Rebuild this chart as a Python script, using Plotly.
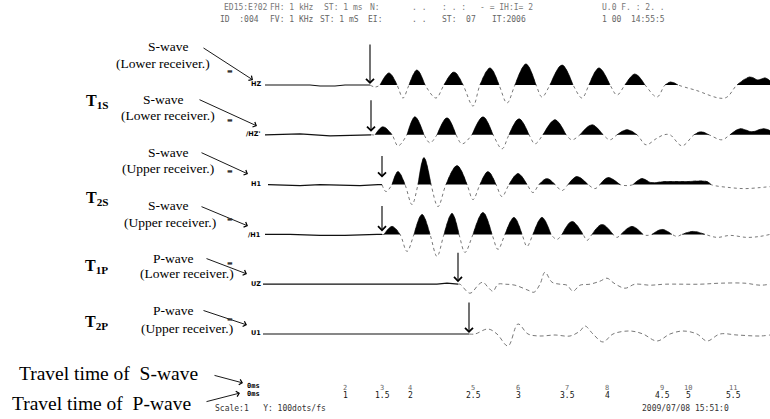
import plotly.graph_objects as go

# ---------------- data (time in samples after trigger, amplitude in counts) ----------------
HZ = [(10,0),(55,0),(65,-1),(80,-1),(90,0),(115,0),(120,-2),(125,0),(134,12),(142,0),(148,-13),(154,0),
      (162,15),(170,0),(181,-13),(189,0),(199,13),(208,0),(218,-21),(225,0),(235,17),(244,0),(252,-18),
      (260,0),(271,21),(281,0),(287,-12),(295,0),(307,20),(318,0),(327,-13),(334,0),(344,17),(355,0),
      (362,-10),(370,0),(380,11),(390,0),(402,-12),(410,0),(416,3),(423,0),(440,-5),(470,-13),(482,0),
      (495,8),(503,5),(510,7),(515,4)]
HZP = [(10,0),(45,1),(75,-1),(117,0),(120,0),(128,8),(137,0),(143,-11),(152,0),(160,18),(169,0),(175,-8),
       (182,0),(192,17),(201,0),(207,-9),(217,0),(228,18),(238,0),(247,-14),(254,0),(264,16),(274,0),
       (280,-9),(288,0),(300,15),(311,0),(317,-5),(325,0),(337,10),(348,0),(355,-5),(362,0),(372,5),
       (382,0),(391,-10),(401,-4),(409,0),(415,0),(427,-11),(439,0),(446,3),(454,0),(467,-5),(475,0),
       (485,6),(497,3),(508,6),(515,4)]
H1 = [(13,0),(45,-1),(65,0),(105,-1),(123,0),(131,-7),(137,0),(143,13),(150,0),(157,-20),(163,0),(169,27),
      (176,0),(183,-22),(191,0),(202,19),(212,0),(218,-15),(225,0),(233,13),(241,0),(247,-12),(254,0),
      (263,11),(272,0),(278,-8),(284,0),(292,6),(300,0),(307,-6),(313,0),(322,8),(333,0),(340,-4),
      (345,0),(353,7),(365,0),(372,-1),(378,0),(387,6),(396,2),(410,3),(430,3),(452,3),(456,0),
      (475,-3),(490,-4),(505,-3),(515,-2)]
ZH1 = [(10,0),(35,0),(65,-1),(90,-1),(122,0),(129,0),(137,8),(145,0),(152,-17),(159,0),(167,20),(175,0),
       (182,-22),(189,0),(197,21),(204,0),(210,-18),(218,0),(228,22),(237,0),(243,-15),(250,0),(259,17),
       (267,0),(272,-12),(278,0),(287,17),(296,0),(302,-5),(307,0),(317,13),(328,0),(332,-6),(337,0),
       (347,10),(358,0),(362,-3),(366,0),(377,8),(388,0),(392,-1),(397,0),(407,5),(417,0),(422,-2),
       (427,0),(438,3),(450,0),(462,-3),(475,-1),(492,-3),(505,-2),(515,0)]
UZ = [(8,0),(182,0),(192,1),(200,0),(205,0),(215,-9),(224,0),(228,2),(233,-3),(238,-7),(243,0),(250,0),
      (260,-1),(273,-6),(279,-8),(285,0),(290,12),(297,2),(305,0),(312,-1),(318,-7),(325,-1),(335,0),
      (345,3),(352,6),(359,1),(370,-4),(380,0),(395,-1),(410,0),(445,0),(465,1),(490,1),(505,-1),(515,0)]
U1 = [(8,0),(214,0),(220,0),(233,5),(242,0),(253,-12),(263,10),(273,0),(285,-2),(300,-1),(315,-2),
      (325,3),(330,8),(338,0),(348,-8),(358,0),(375,3),(388,0),(402,-7),(415,0),(428,3),(442,0),
      (452,-7),(465,0),(482,-1),(505,-2),(515,-1)]

CHANNELS = ["HZ", "/HZ'", "H1", "/H1", "UZ", "U1"]
WAVES = [HZ, HZP, H1, ZH1, UZ, U1]
WAVE_TYPE = ["S", "S", "S", "S", "P", "P"]
ARRIVAL = [115, 116, 127, 127, 203, 214]

TICK_POS = [90, 127, 155, 218, 263, 312, 352, 407, 433, 478]
TICK_S = ["2", "3", "4", "5", "6", "7", "8", "9", "10", "11"]
TICK_P = ["1", "1.5", "2", "2.5", "3", "3.5", "4", "4.5", "5", "5.5"]

# ---------------- layout constants ----------------
W, H = 770, 419
GAP = 49.8          # vertical spacing between traces (counts)
SERIF = "Liberation Serif"
MONO = "DejaVu Sans Mono"


def P(px, py):
    return px / W, 1 - py / H


fig = go.Figure()

for k, (wave, wtype, arr) in enumerate(zip(WAVES, WAVE_TYPE, ARRIVAL)):
    off = -k * GAP
    t = [p[0] for p in wave]
    a = [p[1] for p in wave]
    pre = [(ti, ai) for ti, ai in zip(t, a) if ti <= arr]
    post = [(ti, ai) for ti, ai in zip(t, a) if ti >= arr]
    if not post or post[0][0] != arr:
        post = [(arr, 0)] + post
    if pre[-1][0] != arr:
        pre = pre + [(arr, 0)]
    fig.add_trace(go.Scatter(x=[p[0] for p in pre], y=[p[1] + off for p in pre], mode="lines",
                             line=dict(color="#111", width=1.2), hoverinfo="skip", showlegend=False))
    fig.add_trace(go.Scatter(x=[p[0] for p in post], y=[p[1] + off for p in post], mode="lines",
                             line=dict(color="#555", width=0.8, shape="spline",
                                       dash="3px,3px" if wtype == "S" else "4px,3px"),
                             hoverinfo="skip", showlegend=False))
    if wtype == "S":
        xs, ys = [], []
        run = None
        for i, (ti, ai) in enumerate(post):
            if ai > 0:
                if run is None:
                    run = [i - 1] if i > 0 else []
                run.append(i)
            elif run is not None:
                run.append(i)
                xs += [post[j][0] for j in run] + [None]
                ys += [max(post[j][1], 0) + off for j in run] + [None]
                run = None
        if run is not None:
            xs += [post[j][0] for j in run] + [post[run[-1]][0], None]
            ys += [max(post[j][1], 0) + off for j in run] + [off, None]
        fig.add_trace(go.Scatter(x=xs, y=ys, mode="lines", fill="toself", fillcolor="black",
                                 line=dict(color="black", width=0.6, shape="spline"),
                                 hoverinfo="skip", showlegend=False))

# arrival arrows
ARROW_LEN = [42, 36, 30, 30, 33, 33]
ARROW_STANDOFF = [1, 3, 7, 3, 2, 1]
for k, arr in enumerate(ARRIVAL):
    fig.add_annotation(x=arr, y=-k * GAP, xref="x", yref="y", text="", showarrow=True,
                       ax=0, ay=-ARROW_LEN[k], arrowhead=4, arrowsize=1.4, arrowwidth=1.1,
                       arrowcolor="black", standoff=ARROW_STANDOFF[k])

# tick labels (two overlaid scales)
for tp, s, p in zip(TICK_POS, TICK_S, TICK_P):
    fig.add_annotation(x=tp, y=P(0, 388)[1], xref="x", yref="paper", text=s, showarrow=False,
                       font=dict(family=MONO, size=7, color="#666"), yanchor="middle")
    fig.add_annotation(x=tp, y=P(0, 395)[1], xref="x", yref="paper", text=p, showarrow=False,
                       font=dict(family=MONO, size=8, color="#111"), yanchor="middle")


def text(px, py, s, size=13, family=SERIF, color="black", anchor="center"):
    x, y = P(px, py)
    fig.add_annotation(x=x, y=y, xref="paper", yref="paper", text=s, showarrow=False,
                       xanchor=anchor, yanchor="middle", font=dict(family=family, size=size, color=color))


def pointer(x0, y0, x1, y1):
    x, y = P(x1, y1)
    fig.add_annotation(x=x, y=y, xref="paper", yref="paper", text="", showarrow=True,
                       ax=x0 - x1, ay=y0 - y1, arrowhead=4, arrowsize=1.2, arrowwidth=0.9,
                       arrowcolor="black")


# left descriptive labels
labels = [
    (168, 46, "S-wave"), (163, 63, "(Lower receiver.)"),
    (163, 99, "S-wave"), (168, 116, "(Lower receiver.)"),
    (168, 152, "S-wave"), (168, 168, "(Upper receiver.)"),
    (168, 205, "S-wave"), (170, 223, "(Upper receiver.)"),
    (173, 258, "P-wave"), (187, 273, "(Lower receiver.)"),
    (173, 310, "P-wave"), (187, 328, "(Upper receiver.)"),
]
for px, py, s in labels:
    text(px, py, s, size=13.5)

for px, py, s in [(98, 102, "<b>T<sub>1S</sub></b>"), (98, 198, "<b>T<sub>2S</sub></b>"),
                  (97, 266, "<b>T<sub>1P</sub></b>"), (97, 322, "<b>T<sub>2P</sub></b>")]:
    text(px, py, s, size=16)

for args in [(202, 47, 253, 80), (198, 99, 257, 126), (200, 152, 248, 174), (200, 206, 248, 226),
             (205, 258, 247, 274), (202, 310, 247, 325), (213, 375, 243, 383), (205, 402, 240, 393)]:
    pointer(*args)

# small bold marks and channel names
for py in [71, 119, 170, 218, 262, 318]:
    text(230, py, "▬", size=6, family="DejaVu Sans", color="#333")
for name, py in zip(CHANNELS, [84, 134, 184, 235, 284, 333]):
    text(263, py, "<b>" + name + "</b>", size=6.5, family="DejaVu Sans", anchor="right")

# bottom texts
text(17, 373, "Travel time of  S-wave", size=19.5, anchor="left")
text(10, 403, "Travel time of  P-wave", size=19.5, anchor="left")
text(245, 386, "<b>0ms</b>", size=7, family=MONO, anchor="left")
text(245, 394, "<b>0ms</b>", size=7, family=MONO, anchor="left")
text(213, 408, "Scale:1   Y: 100dots/fs", size=8, family=MONO, color="#333", anchor="left")
text(640, 408, "2009/07/08 15:51:0", size=8, family=MONO, color="#333", anchor="left")

# header lines
for px, s in [(222, "ED15:E?02"), (268, "FH: 1 kHz"), (322, "ST: 1 ms"), (368, "N:"), (410, ". ."),
              (440, ": . :"), (478, "- = IH:I= 2"), (600, "U.0 F. : 2. .")]:
    text(px, 7, s, size=8, family=MONO, color="#777", anchor="left")
for px, s in [(218, "ID  :004"), (268, "FV: 1 KHz"), (318, "ST: 1 mS"), (366, "EI:"), (410, ". ."),
              (440, "ST:  07"), (490, "IT:2006"), (600, "1 00  14:55:5")]:
    text(px, 20, s, size=8, family=MONO, color="#666", anchor="left")

fig.update_layout(
    width=W, height=H, margin=dict(l=0, r=0, t=0, b=0),
    paper_bgcolor="white", plot_bgcolor="white", showlegend=False,
    xaxis=dict(range=[-255, 515], visible=False, fixedrange=True),
    yaxis=dict(range=[-334, 85], visible=False, fixedrange=True),
)

fig.write_html("out.html", config={"displayModeBar": False},
               post_script="document.body.style.margin='0';document.body.style.overflow='hidden';")
